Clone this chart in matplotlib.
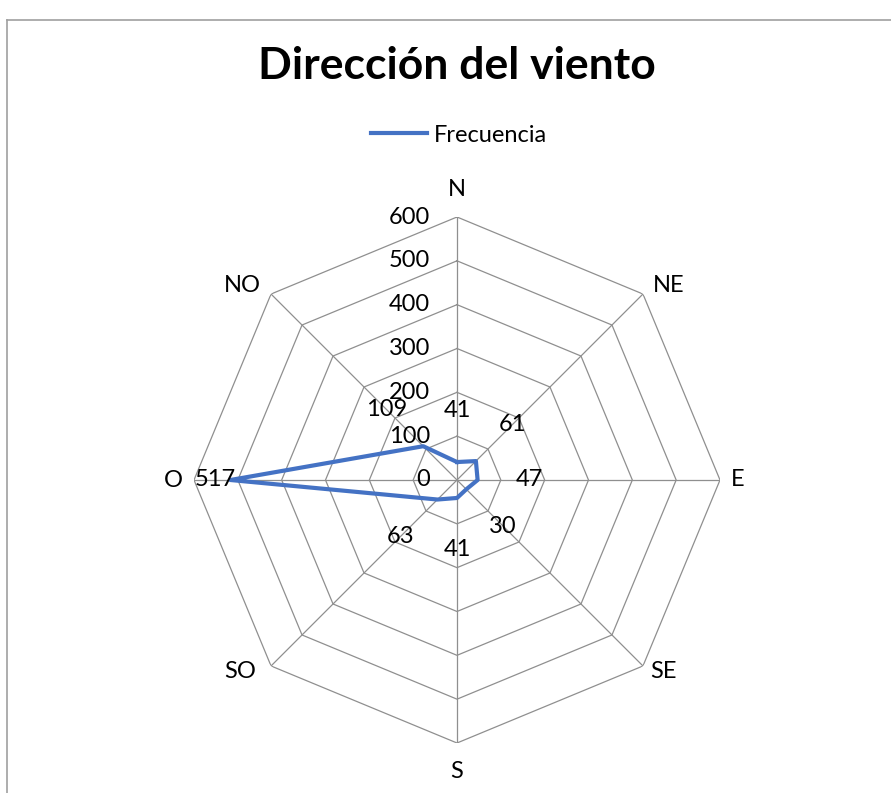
import numpy as np
import matplotlib.pyplot as plt
from matplotlib.lines import Line2D

direcciones = ["N", "NE", "E", "SE", "S", "SO", "O", "NO"]
frecuencia = [41, 61, 47, 30, 41, 63, 517, 109]
niveles = [0, 100, 200, 300, 400, 500, 600]

plt.rcParams['font.family'] = ['Lato', 'DejaVu Sans']

W, H = 891, 793
cx, cy, R = 457, 480, 263
px = 72 / 100  # pixeles -> puntos

fig = plt.figure(figsize=(W / 100, H / 100), dpi=100)
fig.patch.set_facecolor('white')

# marco del grafico
fig.add_artist(Line2D([7 / W, 7 / W], [0, 1 - 20 / H], color='#a0a0a0', lw=1.2))
fig.add_artist(Line2D([7 / W, 1], [1 - 20 / H, 1 - 20 / H], color='#a0a0a0', lw=1.2))

ax = fig.add_axes([(cx - R) / W, (H - cy - R) / H, 2 * R / W, 2 * R / H], projection='polar')
ax.set_theta_zero_location('N')
ax.set_theta_direction(-1)
ax.set_ylim(0, 600)
ax.grid(False)
ax.set_xticks([])
ax.set_yticks([])
ax.spines['polar'].set_visible(False)
ax.patch.set_alpha(0)

ang = np.arange(len(direcciones)) * 2 * np.pi / len(direcciones)
ang_c = np.append(ang, ang[0])

# rejilla octogonal
for r in niveles[1:]:
    ax.plot(ang_c, [r] * len(ang_c), color='#8f8f8f', lw=0.9, zorder=1)
for a in ang:
    ax.plot([a, a], [0, 600], color='#8f8f8f', lw=0.9, zorder=1)

# serie
vals = np.append(frecuencia, frecuencia[0])
ax.plot(ang_c, vals, color='#4472C4', lw=3, solid_joinstyle='round', zorder=3)

# etiquetas de ejes radiales
for r in niveles:
    ax.annotate(str(r), xy=(0, r), xytext=(-27 * px, 0), textcoords='offset points',
                ha='right', va='center', fontsize=17, color='black')

# categorias (desplazamiento en pixeles y alineacion)
cat_pos = {
    "N": (0, 17, 'center', 'bottom'),
    "NE": (10, 9, 'left', 'center'),
    "E": (11, 0, 'left', 'center'),
    "SE": (7, -6, 'left', 'center'),
    "S": (0, -18, 'center', 'top'),
    "SO": (-15, -6, 'right', 'center'),
    "O": (-11, 0, 'right', 'center'),
    "NO": (-10, 9, 'right', 'center'),
}
for a, d in zip(ang, direcciones):
    dx, dy, ha, va = cat_pos[d]
    ax.annotate(d, xy=(a, 600), xytext=(dx * px, dy * px), textcoords='offset points',
                ha=ha, va=va, fontsize=17, color='black')

# etiquetas de datos
for a, v, d in zip(ang, frecuencia, direcciones):
    dist = 52 if d != "O" else 15
    dx, dy = dist * px * np.sin(a), dist * px * np.cos(a)
    ax.annotate(str(v), xy=(a, v), xytext=(dx, dy), textcoords='offset points',
                ha='center', va='center', fontsize=17, color='black')

fig.text(457 / W, 1 - 66 / H, "Dirección del viento", ha='center', va='center',
         fontsize=32, fontweight='bold')

leg = ax.legend([Line2D([0], [0], color='#4472C4', lw=3)], ["Frecuencia"],
                loc='center', bbox_to_anchor=(459 / W, 1 - 135 / H),
                bbox_transform=fig.transFigure, frameon=False, fontsize=17,
                handlelength=2.4, handletextpad=0.3)

fig.savefig("out.png", dpi=100)
